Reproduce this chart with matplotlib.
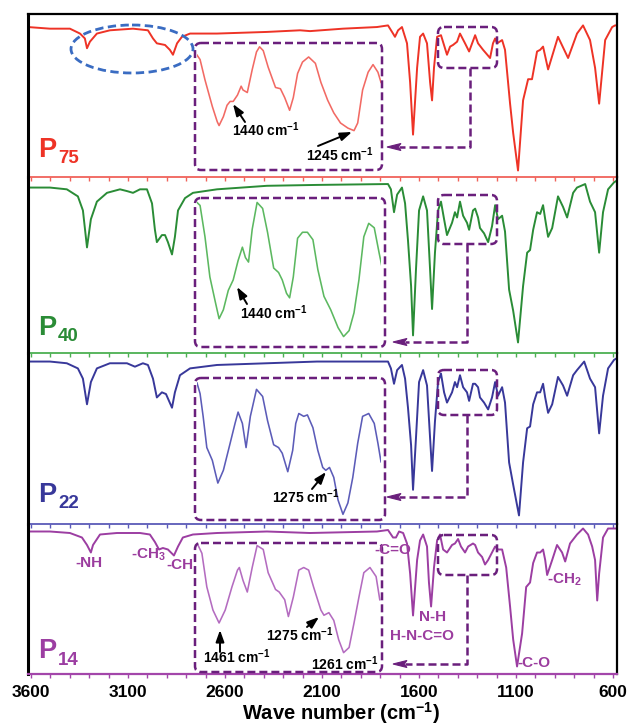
import matplotlib
matplotlib.use('Agg')
import matplotlib.pyplot as plt
from matplotlib.transforms import Affine2D
from matplotlib.patches import FancyBboxPatch, Ellipse, Polygon, FancyArrowPatch
from matplotlib.ticker import MultipleLocator, FixedLocator

plt.rcParams['font.family'] = ['Liberation Sans', 'DejaVu Sans']
plt.rcParams['font.weight'] = 'bold'
plt.rcParams['mathtext.fontset'] = 'custom'
plt.rcParams['mathtext.rm'] = 'Liberation Sans:bold'
plt.rcParams['mathtext.it'] = 'Liberation Sans:bold'
plt.rcParams['mathtext.bf'] = 'Liberation Sans:bold'
plt.rcParams['mathtext.default'] = 'rm'

# ---------------- data (wavenumber cm-1, transmittance %) ----------------
wn_p75 = [3615, 3502, 3399, 3347, 3322, 3311, 3296, 3260, 3193, 3074, 2997, 2971, 2951, 2909, 2884,
          2868, 2847, 2822, 2780, 2641, 2384, 2213, 2162, 1992, 1817, 1760, 1734, 1724, 1708, 1688,
          1662, 1646, 1631, 1610, 1595, 1579, 1559, 1543, 1533, 1523, 1507, 1487, 1456, 1440, 1425,
          1404, 1389, 1363, 1342, 1311, 1296, 1270, 1234, 1219, 1208, 1198, 1172, 1157, 1131, 1115,
          1090, 1064, 1038, 1018, 992, 976, 961, 935, 884, 832, 786, 755, 719, 693, 672, 641, 605, 590, 580]
t_p75 = [92, 91, 91, 88, 85, 79, 83, 88, 90, 91, 90, 85, 82, 81, 78,
         75, 82, 86, 88, 88, 89, 90, 89.5, 91, 92, 93, 88, 86, 90, 92,
         82, 58, 26, 67, 86, 88, 82, 58, 47, 67, 86, 87, 75, 80, 81,
         83, 88, 82, 77, 87, 82, 78, 73, 82, 85, 82, 84, 78, 45, 27,
         4, 47, 60, 60, 77, 78, 80, 66, 86, 73, 88, 93, 84, 67, 45, 84, 92, 93, 93]

wn_p40 = [3615, 3502, 3415, 3358, 3332, 3311, 3291, 3260, 3208, 3141, 3105, 3074, 3038, 3002, 2976,
          2961, 2951, 2925, 2909, 2894, 2873, 2858, 2842, 2806, 2765, 2641, 2384, 2126, 1760, 1745,
          1729, 1713, 1688, 1672, 1657, 1641, 1631, 1616, 1600, 1579, 1559, 1543, 1533, 1518, 1502,
          1487, 1471, 1456, 1430, 1415, 1404, 1389, 1373, 1353, 1342, 1322, 1311, 1296, 1286, 1265,
          1244, 1224, 1208, 1193, 1172, 1157, 1136, 1115, 1090, 1064, 1043, 1028, 1012, 992, 976,
          961, 950, 935, 914, 884, 858, 837, 806, 786, 744, 719, 693, 672, 652, 626, 595, 580]
t_p40 = [94, 94, 93, 89, 81, 60, 76, 86, 91, 93, 92, 91, 93, 93, 85,
         70, 63, 67, 67, 63, 56, 66, 81, 88, 91, 93, 95, 95.5, 96, 93,
         80, 90, 94, 85, 64, 38, 10, 47, 81, 89, 81, 47, 25, 57, 81,
         86, 76, 67, 74, 80, 77, 86, 78, 74, 70, 81, 82, 77, 71, 68,
         63, 72, 84, 76, 78, 69, 36, 24, 6, 38, 57, 58.5, 70, 80, 79,
         84, 76, 66, 71, 89, 83, 77, 91, 94, 96, 86, 80, 57, 80, 93, 97, 98]

wn_p22 = [3615, 3502, 3415, 3358, 3332, 3311, 3291, 3260, 3193, 3105, 3064, 3023, 2997, 2971, 2951,
          2925, 2904, 2873, 2858, 2832, 2780, 2641, 2384, 2126, 1760, 1745, 1729, 1713, 1688, 1672,
          1657, 1641, 1631, 1616, 1600, 1579, 1559, 1543, 1533, 1518, 1502, 1487, 1471, 1456, 1430,
          1415, 1404, 1389, 1373, 1353, 1342, 1322, 1311, 1296, 1286, 1265, 1244, 1224, 1208, 1193,
          1172, 1157, 1136, 1115, 1085, 1064, 1043, 1028, 1012, 992, 976, 961, 950, 935, 914,
          884, 858, 837, 806, 786, 749, 719, 693, 672, 652, 626, 595, 580]
t_p22 = [95, 95, 94, 91, 85, 70, 83, 91, 94, 94, 92, 94, 93, 85, 74,
         77, 76, 68, 77, 87, 91, 93, 94, 95, 95, 91, 82, 90, 93, 85,
         68, 46, 20, 50, 83, 90, 81, 50, 31, 60, 83, 88, 77, 71, 77,
         83, 80, 87, 80, 77, 72, 82, 82, 80, 74, 71, 67, 74, 83, 75,
         80, 71, 36, 23, 5, 36, 56, 57, 70, 77, 77, 82, 74, 65, 70,
         86, 81, 75, 87, 90, 95, 85, 80, 53, 75, 91, 96, 97]

wn_p14 = [3615, 3502, 3399, 3337, 3311, 3291, 3280, 3244, 3157, 3038, 2987, 2961, 2940, 2920, 2894,
          2863, 2842, 2817, 2765, 2641, 2384, 2162, 1817, 1760, 1734, 1719, 1703, 1682, 1662, 1646,
          1631, 1610, 1595, 1579, 1559, 1549, 1538, 1523, 1507, 1492, 1476, 1456, 1430, 1415, 1399,
          1384, 1363, 1347, 1322, 1311, 1296, 1275, 1260, 1244, 1224, 1208, 1193, 1172, 1151, 1131,
          1115, 1095, 1069, 1048, 1028, 1012, 992, 976, 961, 950, 940, 914, 889, 863, 847,
          822, 786, 755, 729, 708, 693, 682, 672, 652, 626, 600, 580]
t_p14 = [95, 95, 94, 91, 86, 81, 86, 93, 94, 94, 93, 88, 83, 84, 83,
         79, 85, 91, 93, 94, 95, 94, 95, 96, 91, 91, 95, 94, 87, 67,
         39, 76, 89, 93, 85, 61, 45, 71, 89, 93, 83, 81, 86, 87, 90,
         85, 81, 85, 87, 86, 81, 78, 73, 76, 81, 85, 83, 83, 71, 45,
         23, 5, 27, 58, 61, 74, 81, 81, 83, 76, 66, 76, 86, 81, 75,
         87, 93, 97, 93, 85, 76, 49, 67, 91, 97, 97, 97]

# expanded 1500-1200 cm-1 region (insets)
wn_p75_zoom = [1500, 1495, 1487, 1475, 1467, 1464, 1457, 1451, 1446, 1441, 1434, 1428, 1425, 1418, 1410,
               1403, 1398, 1392, 1384, 1372, 1364, 1357, 1349, 1343, 1336, 1328, 1318, 1307, 1298, 1287,
               1277, 1266, 1254, 1244, 1238, 1230, 1221, 1213, 1205, 1200]
t_p75_zoom = [90.5, 87, 71, 50, 38, 35, 42, 51, 54, 54, 59, 66, 63, 61, 79,
              93, 97, 94, 81, 65, 64, 57, 47, 57, 76, 85, 89, 84, 69, 55,
              45, 37, 33, 31, 37, 63, 77, 83, 77, 69]

wn_p40_zoom = [1500, 1495, 1487, 1479, 1470, 1464, 1457, 1449, 1441, 1433, 1426, 1421, 1416, 1410, 1402,
               1393, 1385, 1375, 1367, 1361, 1354, 1349, 1343, 1336, 1328, 1320, 1311, 1303, 1293, 1282,
               1270, 1261, 1252, 1244, 1236, 1228, 1220, 1211, 1203, 1198]
t_p40_zoom = [97, 95, 74, 47, 30, 19, 25, 38, 45, 58, 67, 60, 57, 79, 97,
              93, 77, 53, 50, 45, 36, 33, 47, 73, 77, 77, 72, 52, 34, 25,
              13, 7, 11, 23, 45, 74, 83, 80, 63, 53]

wn_p22_zoom = [1500, 1495, 1490, 1484, 1475, 1470, 1466, 1457, 1446, 1438, 1433, 1426, 1420, 1413, 1403,
               1393, 1385, 1375, 1367, 1361, 1352, 1344, 1339, 1334, 1326, 1320, 1311, 1303, 1295, 1290,
               1284, 1277, 1270, 1262, 1254, 1246, 1238, 1230, 1220, 1211, 1205, 1200]
t_p22_zoom = [96.5, 89, 73, 51, 42, 33, 26, 35, 54, 68, 76, 68, 51, 73, 92,
              87, 70, 53, 51, 47, 34, 49, 68, 75, 73, 74, 65, 49, 37, 35,
              37, 30, 14, 4, 12, 30, 54, 73, 75, 68, 54, 41]

wn_p14_zoom = [1498, 1492, 1484, 1474, 1464, 1454, 1443, 1434, 1431, 1425, 1418, 1410, 1402, 1392, 1384,
               1372, 1366, 1357, 1351, 1343, 1334, 1326, 1318, 1310, 1298, 1293, 1285, 1277, 1269, 1261,
               1252, 1244, 1236, 1228, 1218, 1208, 1202]
t_p14_zoom = [98, 92, 66, 48, 38, 48, 66, 79, 81, 71, 62, 81, 98, 95, 77,
              64, 62, 56, 43, 58, 79, 81, 79, 66, 48, 44, 46, 40, 25, 15,
              19, 38, 58, 77, 81, 74, 56]

sample_names = ["P", "P", "P", "P"]
sample_subs = ["75", "40", "22", "14"]
tick_values = [3600, 3100, 2600, 2100, 1600, 1100, 600]
tick_labels = ["3600", "3100", "2600", "2100", "1600", "1100", "600"]

# ---------------- layout ----------------
W, H = 630, 727
fig = plt.figure(figsize=(W / 100, H / 100), dpi=100)
PX = Affine2D().scale(1 / W, -1 / H).translate(0, 1) + fig.transFigure


def px_axes(x0, y0, x1, y1, z=1):
    return fig.add_axes([x0 / W, 1 - y1 / H, (x1 - x0) / W, (y1 - y0) / H], zorder=z)


BOX_C = '#6a1f7c'
DASH = (0, (3.2, 1.6))

panels = [
    dict(wn=wn_p75, t=t_p75, wz=wn_p75_zoom, tz=t_p75_zoom, y=(14, 177), c='#ee3326', ci='#f26a64',
         sc='#f0625a', box=(195, 43, 382, 170), sbox=(438, 27, 497, 68), conn=(470, 147, 387),
         lab=(38, 157, 163)),
    dict(wn=wn_p40, t=t_p40, wz=wn_p40_zoom, tz=t_p40_zoom, y=(177, 353), c='#2a8c36', ci='#5cb860',
         sc='#4cb052', box=(195, 198, 385, 347), sbox=(438, 195, 497, 244), conn=(467, 342, 393),
         lab=(38, 335, 341)),
    dict(wn=wn_p22, t=t_p22, wz=wn_p22_zoom, tz=t_p22_zoom, y=(353, 524), c='#38389a', ci='#5c5cb8',
         sc='#5a5ab8', box=(195, 378, 385, 520), sbox=(438, 370, 497, 415), conn=(467, 497, 387),
         lab=(38, 502, 508)),
    dict(wn=wn_p14, t=t_p14, wz=wn_p14_zoom, tz=t_p14_zoom, y=(524, 674), c='#9c3ea2', ci='#b46cc0',
         sc='#a346aa', box=(195, 543, 382, 672), sbox=(438, 535, 497, 575), conn=(467, 664, 393),
         lab=(38, 658, 665)),
]

for i, p in enumerate(panels):
    last = i == len(panels) - 1
    ax = px_axes(28, p['y'][0], 617, p['y'][1])
    ax.set_facecolor('none')
    ax.plot(p['wn'], p['t'], color=p['c'], lw=1.4, solid_joinstyle='round')
    ax.set_xlim(3615, 580)
    ax.set_ylim(0, 100)
    ax.set_yticks([])
    ax.xaxis.set_major_locator(FixedLocator(tick_values))
    ax.xaxis.set_minor_locator(MultipleLocator(100))
    ax.tick_params(axis='x', which='both', direction='out', length=3, width=1, color=p['sc'],
                   labelsize=12.5, pad=5)
    if last:
        ax.set_xticklabels(tick_labels, fontweight='bold')
    else:
        ax.tick_params(axis='x', labelbottom=False)
    ax.spines['left'].set_linewidth(2.2)
    ax.spines['left'].set_color('black')
    ax.spines['right'].set_linewidth(1.6)
    ax.spines['right'].set_color('black')
    ax.spines['bottom'].set_color(p['sc'])
    ax.spines['bottom'].set_linewidth(1.6 if last else 1.3)
    if i == 0:
        ax.spines['top'].set_linewidth(1.6)
    else:
        ax.spines['top'].set_visible(False)

    # inset of the 1500-1200 cm-1 region
    bx0, by0, bx1, by1 = p['box']
    ix = px_axes(197, by0, 381, by1, z=2)
    ix.plot(p['wz'], p['tz'], color=p['ci'], lw=1.15, solid_joinstyle='round')
    ix.set_xlim(1500, 1200)
    ix.set_ylim(0, 100)
    ix.axis('off')

    fig.add_artist(FancyBboxPatch((bx0, by0), bx1 - bx0, by1 - by0,
                                  boxstyle='round,pad=0,rounding_size=6', transform=PX,
                                  fill=False, ec=BOX_C, lw=1.8, ls=DASH, zorder=3))
    sx0, sy0, sx1, sy1 = p['sbox']
    fig.add_artist(FancyBboxPatch((sx0, sy0), sx1 - sx0, sy1 - sy0,
                                  boxstyle='round,pad=0,rounding_size=6', transform=PX,
                                  fill=False, ec=BOX_C, lw=1.8, ls=DASH, zorder=3))
    cx, cy, tip = p['conn']
    fig.add_artist(plt.Line2D([cx, cx, tip + 12], [sy1, cy, cy], transform=PX, color=BOX_C,
                              lw=1.8, ls=DASH, zorder=3))
    fig.add_artist(Polygon([(tip, cy), (tip + 14, cy - 3.5), (tip + 11, cy), (tip + 14, cy + 3.5)],
                           closed=True, transform=PX, fc=BOX_C, ec=BOX_C, lw=0.8, zorder=3))

    lx, lb, sb = p['lab']
    fig.text(lx, lb, sample_names[i], transform=PX, color=p['c'], fontsize=19.5, fontweight='bold',
             ha='left', va='baseline', zorder=4)
    fig.text(lx + 20, sb, sample_subs[i], transform=PX, color=p['c'], fontsize=13.5, fontweight='bold',
             ha='left', va='baseline', zorder=4)

# blue dashed ellipse on P75 (CH stretch region)
fig.add_artist(Ellipse((132, 49), 122, 48, transform=PX, fill=False, ec='#3a6cc2', lw=2.0,
                       ls=(0, (3.0, 1.6)), zorder=3))


def note(x, y, s, size=10, color='black'):
    fig.text(x, y, s, transform=PX, fontsize=size, fontweight='bold', color=color,
             ha='center', va='center', zorder=5)


def arrow(tail, tip):
    fig.add_artist(FancyArrowPatch(tail, tip, transform=PX, arrowstyle='-|>,head_length=0.7,head_width=0.25',
                                   mutation_scale=10, color='black', lw=1.4, shrinkA=0, shrinkB=0, zorder=5))


note(266, 130, '1440 cm$^{-1}$')
arrow((245, 122), (233, 104))
note(340, 155, '1245 cm$^{-1}$')
arrow((318, 146), (352, 132))
note(274, 313, '1440 cm$^{-1}$')
arrow((247, 304), (237, 287))
note(306, 497, '1275 cm$^{-1}$')
arrow((312, 489), (326, 472))
note(237, 657, '1461 cm$^{-1}$')
arrow((220, 652), (220, 630))
note(300, 635, '1275 cm$^{-1}$')
arrow((307, 627), (319, 617))
note(345, 664, '1261 cm$^{-1}$')

PUR = '#9b3c9e'
note(89, 563, '-NH', 11, PUR)
note(148, 555, '-CH$_3$', 11, PUR)
note(180, 565, '-CH', 11, PUR)
note(393, 550, '-C=O', 11, PUR)
note(433, 617, 'N-H', 11, PUR)
note(422, 636, 'H-N-C=O', 11, PUR)
note(534, 663, '-C-O', 11, PUR)
note(564, 580, '-CH$_2$', 11, PUR)

fig.text(341, 713, 'Wave number (cm$^{-1}$)', transform=PX, fontsize=14.5, fontweight='bold',
         ha='center', va='center')

fig.savefig('out.png', dpi=100)
